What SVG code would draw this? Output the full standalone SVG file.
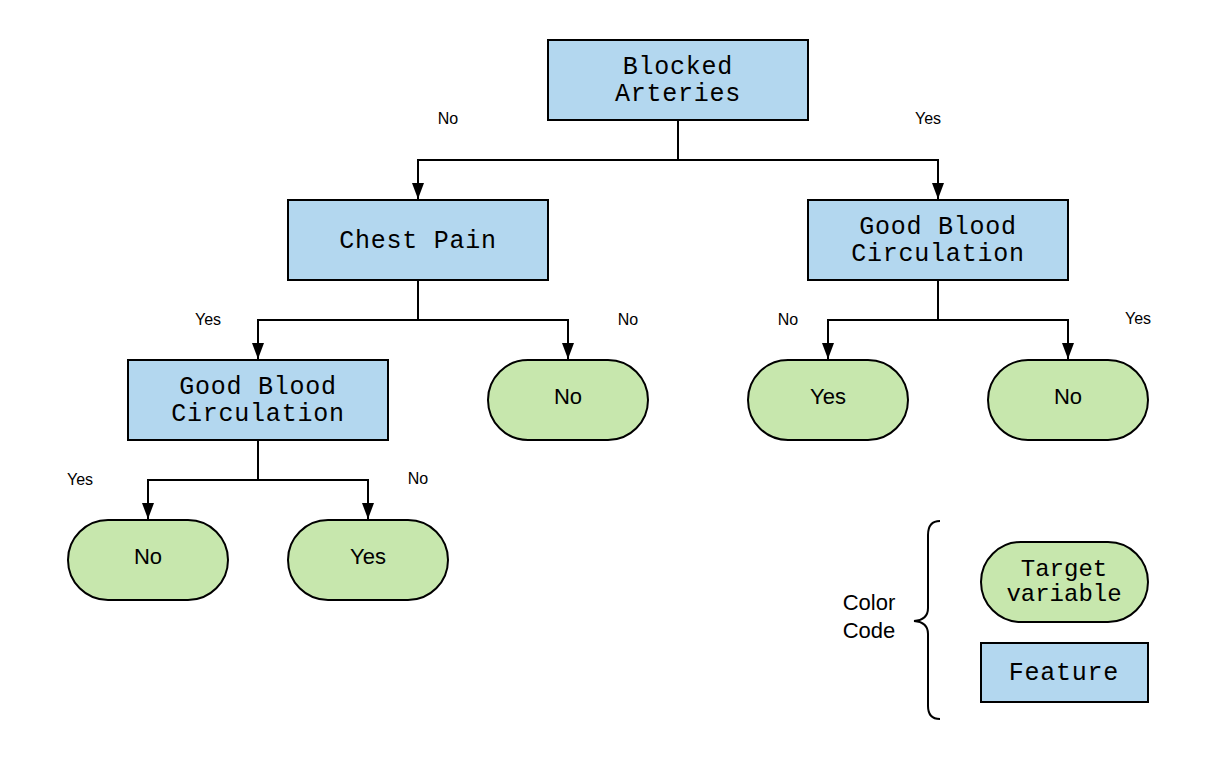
<svg xmlns="http://www.w3.org/2000/svg" width="1228" height="760" viewBox="0 0 1228 760">
<style>
.feat{fill:#b3d7ef;stroke:#000;stroke-width:2}
.targ{fill:#c7e7ad;stroke:#000;stroke-width:2}
.mono{font-family:"Liberation Mono","DejaVu Sans Mono",monospace;font-size:25px;letter-spacing:0.75px;fill:#000;text-anchor:middle}
.sans{font-family:"Liberation Sans",Arial,sans-serif;font-size:22px;fill:#000;text-anchor:middle}
.lbl{font-family:"Liberation Sans",Arial,sans-serif;font-size:16px;fill:#000;text-anchor:middle}
.edge{fill:none;stroke:#000;stroke-width:2}
</style>
<defs>
<marker id="arr" viewBox="0 0 16 12" refX="16" refY="6" markerWidth="16" markerHeight="12" markerUnits="userSpaceOnUse" orient="auto">
<path d="M0,0 L16,6 L0,12 Z" fill="#000"/>
</marker>
</defs>
<rect width="1228" height="760" fill="#fff"/>
<g id="connectors">
<path class="edge" d="M678,120 V160 H418 V199" marker-end="url(#arr)"/>
<path class="edge" d="M678,160 H938 V199" marker-end="url(#arr)"/>
<path class="edge" d="M418,280 V320 H258 V359" marker-end="url(#arr)"/>
<path class="edge" d="M418,320 H568 V359" marker-end="url(#arr)"/>
<path class="edge" d="M938,280 V320 H828 V359" marker-end="url(#arr)"/>
<path class="edge" d="M938,320 H1068 V359" marker-end="url(#arr)"/>
<path class="edge" d="M258,440 V480 H148 V519" marker-end="url(#arr)"/>
<path class="edge" d="M258,480 H368 V519" marker-end="url(#arr)"/>
<text class="lbl" x="448" y="124">No</text>
<text class="lbl" x="928" y="124">Yes</text>
<text class="lbl" x="208" y="325">Yes</text>
<text class="lbl" x="628" y="325">No</text>
<text class="lbl" x="788" y="325">No</text>
<text class="lbl" x="1138" y="324">Yes</text>
<text class="lbl" x="80" y="485">Yes</text>
<text class="lbl" x="418" y="484">No</text>
</g>
<g id="root">
<rect class="feat" x="548" y="40" width="260" height="80"/>
<text class="mono"><tspan x="678" y="74">Blocked</tspan><tspan x="678" y="101">Arteries</tspan></text>
</g>
<g id="chest">
<rect class="feat" x="288" y="200" width="260" height="80"/>
<text class="mono" x="418" y="248">Chest Pain</text>
</g>
<g id="gbc-right">
<rect class="feat" x="808" y="200" width="260" height="80"/>
<text class="mono"><tspan x="938" y="234">Good Blood</tspan><tspan x="938" y="261">Circulation</tspan></text>
</g>
<g id="gbc-left">
<rect class="feat" x="128" y="360" width="260" height="80"/>
<text class="mono"><tspan x="258" y="394">Good Blood</tspan><tspan x="258" y="421">Circulation</tspan></text>
</g>
<g id="leaf-cp-no">
<rect class="targ" x="488" y="360" width="160" height="80" rx="40"/>
<text class="sans" x="568" y="404">No</text>
</g>
<g id="leaf-r-yes">
<rect class="targ" x="748" y="360" width="160" height="80" rx="40"/>
<text class="sans" x="828" y="404">Yes</text>
</g>
<g id="leaf-r-no">
<rect class="targ" x="988" y="360" width="160" height="80" rx="40"/>
<text class="sans" x="1068" y="404">No</text>
</g>
<g id="leaf-l-no">
<rect class="targ" x="68" y="520" width="160" height="80" rx="40"/>
<text class="sans" x="148" y="564">No</text>
</g>
<g id="leaf-l-yes">
<rect class="targ" x="288" y="520" width="160" height="80" rx="40"/>
<text class="sans" x="368" y="564">Yes</text>
</g>
<g id="legend">
<text class="sans"><tspan x="869" y="610">Color</tspan><tspan x="869" y="638">Code</tspan></text>
<path d="M940,521 Q928,521 928,535 V608 Q928,620 914,621 Q928,622 928,634 V706 Q928,719 940,719" fill="none" stroke="#000" stroke-width="2"/>
<g id="legend-target">
<rect class="targ" x="981" y="542" width="167" height="80" rx="40"/>
<text class="mono" style="font-size:24px;letter-spacing:0"><tspan x="1064" y="576">Target</tspan><tspan x="1064" y="601">variable</tspan></text>
</g>
<g id="legend-feature">
<rect class="feat" x="981" y="643" width="167" height="59"/>
<text class="mono" x="1064" y="680">Feature</text>
</g>
</g>
</svg>
